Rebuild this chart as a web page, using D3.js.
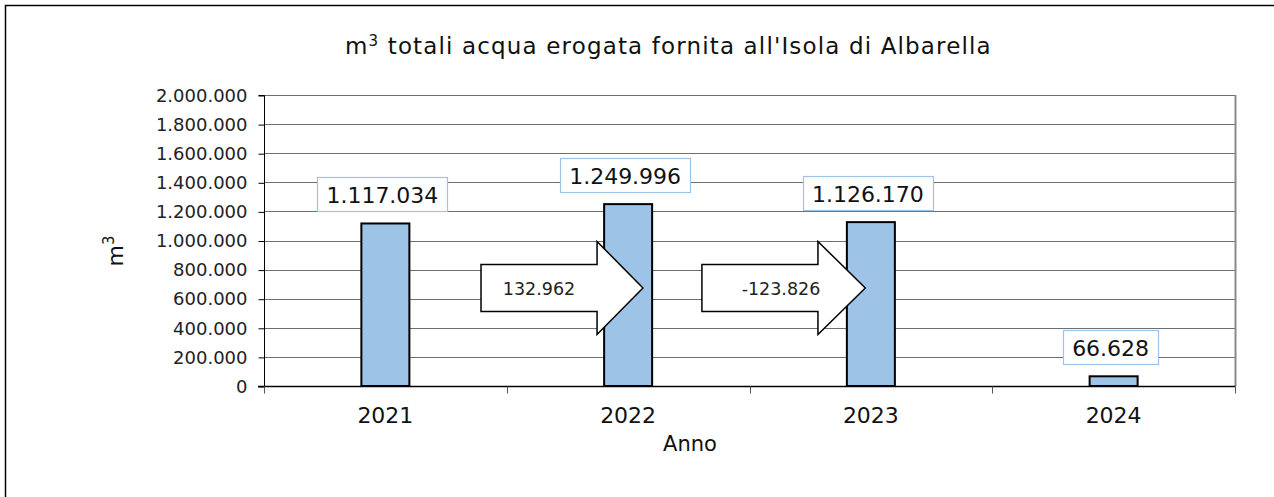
<!DOCTYPE html>
<html><head><meta charset="utf-8">
<script src="https://cdn.jsdelivr.net/npm/d3@7"></script>
<style>
html,body{margin:0;padding:0;background:#fff;}
svg{display:block;font-family:"DejaVu Sans",Verdana,sans-serif;}
</style></head>
<body>
<svg id="chart" width="1274" height="497"></svg>
<script>
const categories = ["2021", "2022", "2023", "2024"];
const values = [1117034, 1249996, 1126170, 66628];
const yTicks = [0, 200000, 400000, 600000, 800000, 1000000, 1200000, 1400000, 1600000, 1800000, 2000000];
const titleMain = "m";
const titleRest = " totali acqua erogata fornita all'Isola di Albarella";
const xTitle = "Anno";
const arrowPairs = [[0, 1], [1, 2]];

const W = 1274, H = 497;
const M = {left: 264, right: 1235, top: 95, bottom: 386};
const svg = d3.select("#chart");
const loc = d3.formatLocale({decimal: ",", thousands: ".", grouping: [3], currency: ["", ""], minus: "-"});
const fmt = loc.format(",");

// frame
svg.append("path").attr("d", `M5.5,${H} V5.5 H${W}`).attr("fill", "none")
  .attr("stroke", "#000").attr("stroke-width", 1.5);

const x = d3.scaleBand().domain(categories).range([M.left, M.right]).padding(0);
const xi = d3.scaleLinear().domain([0, categories.length]).range([M.left, M.right]);
const y = d3.scaleLinear().domain([0, 2000000]).range([M.bottom, M.top]);

// grid
svg.append("g").selectAll("line").data(yTicks.filter(d => d > 0)).join("line")
  .attr("x1", M.left).attr("x2", M.right)
  .attr("y1", d => Math.round(y(d)) + 0.5).attr("y2", d => Math.round(y(d)) + 0.5)
  .attr("stroke", "#6e6e6e").attr("stroke-width", 1);
// right border
svg.append("line").attr("x1", M.right + 0.5).attr("x2", M.right + 0.5)
  .attr("y1", M.top).attr("y2", M.bottom).attr("stroke", "#8a8a8a").attr("stroke-width", 2);

// y axis
const yAxis = d3.axisLeft(y).tickValues(yTicks).tickFormat(fmt).tickSize(6).tickPadding(11);
const gy = svg.append("g").attr("transform", `translate(${M.left + 0.5},0.5)`).call(yAxis);
gy.select(".domain").attr("stroke", "#000").attr("d", `M-6,${M.top}H0V${M.bottom}`);
gy.selectAll(".tick line").attr("stroke", "#000");
gy.selectAll(".tick text").attr("font-size", 18).attr("fill", "#222")
  .attr("font-family", "DejaVu Sans, Verdana, sans-serif");

// x axis
const gx = svg.append("g").attr("transform", `translate(0,${M.bottom + 0.5})`);
gx.append("line").attr("x1", M.left - 6).attr("x2", M.right + 0.5).attr("y1", 0).attr("y2", 0)
  .attr("stroke", "#000").attr("stroke-width", 1.5);
gx.selectAll("line.tk").data(d3.range(categories.length + 1)).join("line").attr("class", "tk")
  .attr("x1", d => Math.round(xi(d)) + 0.5).attr("x2", d => Math.round(xi(d)) + 0.5)
  .attr("y1", 0).attr("y2", 7).attr("stroke", "#555");
gx.selectAll("text").data(categories).join("text")
  .attr("x", d => x(d) + x.bandwidth() / 2).attr("y", 36)
  .attr("text-anchor", "middle").attr("font-size", 22).attr("fill", "#111").text(d => d);

// bars
const bw = 48;
svg.append("g").selectAll("rect").data(values).join("rect")
  .attr("x", (d, i) => x(categories[i]) + x.bandwidth() / 2 - bw / 2)
  .attr("y", d => y(d)).attr("width", bw).attr("height", d => y(0) - y(d))
  .attr("fill", "#9dc3e6").attr("stroke", "#000").attr("stroke-width", 2);

// arrows
const arrowGeo = [{l: 0.894, hs: 1.372, tip: 1.561, tx: 539}, {l: 1.804, hs: 2.282, tip: 2.477, tx: 781}];
arrowPairs.forEach((p, k) => {
  const g = arrowGeo[k];
  const L = xi(g.l), HS = xi(g.hs), T = xi(g.tip);
  const cy = 288, bh = 23.5, hh = 46.5;
  const d = `M${L},${cy - bh} H${HS} V${cy - hh} L${T},${cy} L${HS},${cy + hh} V${cy + bh} H${L} Z`;
  svg.append("path").attr("d", d).attr("fill", "#fff").attr("stroke", "#000").attr("stroke-width", 1.5);
  svg.append("text").attr("x", g.tx).attr("y", cy + 7).attr("text-anchor", "middle")
    .attr("font-size", 17.5).attr("fill", "#222").text(fmt(values[p[1]] - values[p[0]]));
});

// value labels
values.forEach((v, i) => {
  const cx = x(categories[i]) + x.bandwidth() / 2 - 3;
  const bottom = y(v) - 12;
  const g = svg.append("g");
  const t = g.append("text").attr("x", cx).attr("y", bottom - 8.5).attr("text-anchor", "middle")
    .attr("font-size", 22).attr("fill", "#111").text(fmt(v));
  const bb = t.node().getBBox();
  g.insert("rect", "text")
    .attr("x", Math.round(bb.x - 9) + 0.5).attr("y", Math.round(bottom - 34) + 0.5)
    .attr("width", Math.round(bb.width + 18)).attr("height", 34)
    .attr("fill", "#fff").attr("stroke", "#9dc3e6").attr("stroke-width", 1.2);
});

// titles
const tt = svg.append("text").attr("x", 345).attr("y", 54)
  .attr("font-size", 23).attr("fill", "#111").attr("letter-spacing", 1.15);
tt.append("tspan").text(titleMain);
tt.append("tspan").attr("dy", -8).attr("font-size", 15).text("3");
tt.append("tspan").attr("dy", 8).text(titleRest);

svg.append("text").attr("x", 690).attr("y", 451).attr("text-anchor", "middle")
  .attr("font-size", 21).attr("fill", "#111").text(xTitle);

const yt = svg.append("text").attr("transform", "translate(123,251) rotate(-90)")
  .attr("text-anchor", "middle").attr("font-size", 22).attr("fill", "#111");
yt.append("tspan").text("m");
yt.append("tspan").attr("dy", -9).attr("font-size", 15).text("3");
</script>
</body></html>
